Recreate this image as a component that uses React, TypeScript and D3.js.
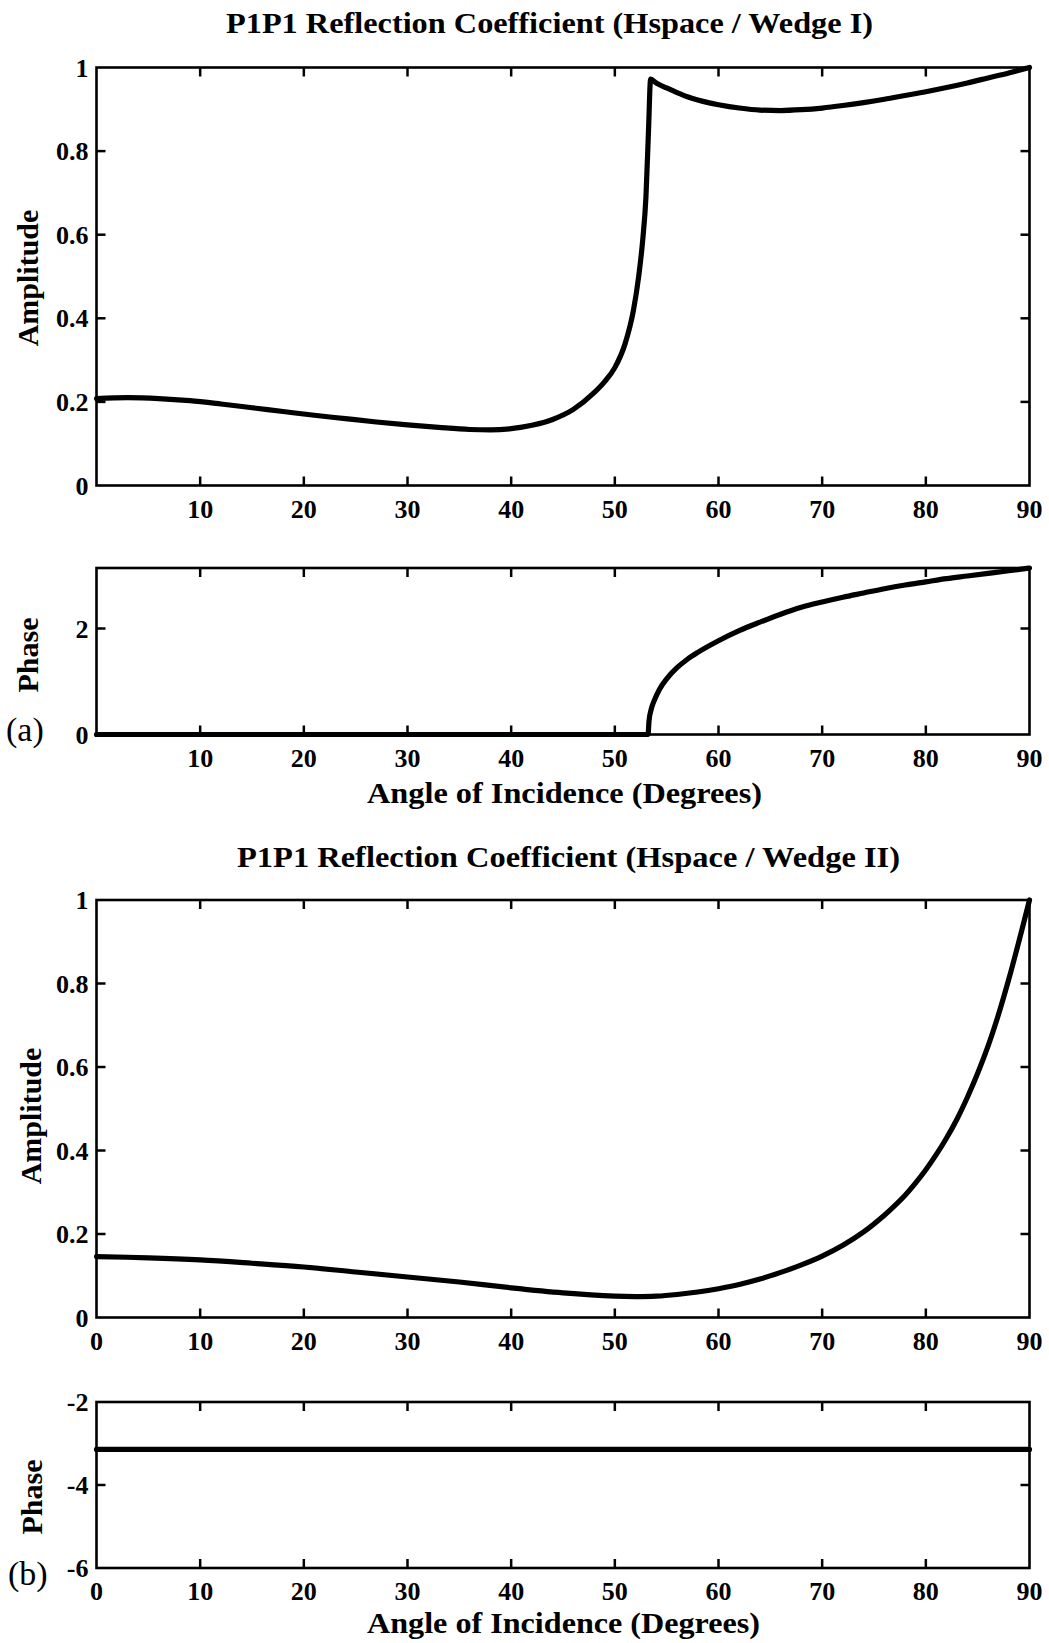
import React from "react";
import * as d3 from "d3";

// Angle of incidence in degrees for every panel
const xTicks = [0, 10, 20, 30, 40, 50, 60, 70, 80, 90];
const xTickLabelsA = ["", "10", "20", "30", "40", "50", "60", "70", "80", "90"];
const xTickLabelsB = ["0", "10", "20", "30", "40", "50", "60", "70", "80", "90"];

const ampTicks = [0, 0.2, 0.4, 0.6, 0.8, 1];
const ampTickLabels = ["0", "0.2", "0.4", "0.6", "0.8", "1"];
const phaseATicks = [0, 2];
const phaseATickLabels = ["0", "2"];
const phaseBTicks = [-6, -4, -2];
const phaseBTickLabels = ["-6", "-4", "-2"];

// Wedge I amplitude (angle, |R|)
const ampWedgeI: [number, number][] = [
  [0, 0.208], [3, 0.21], [6, 0.208], [9, 0.203], [12, 0.195], [15, 0.186],
  [18, 0.177], [21, 0.168], [24, 0.16], [27, 0.152], [30, 0.145], [33, 0.139],
  [36, 0.134], [38, 0.133], [40, 0.136], [42, 0.144], [44, 0.158], [46, 0.182],
  [48, 0.222], [49, 0.248], [50, 0.282], [51, 0.34], [51.8, 0.42], [52.3, 0.5],
  [52.7, 0.59], [53.0, 0.69], [53.25, 0.85], [53.45, 0.972], [54, 0.963],
  [55, 0.951], [56, 0.94], [57, 0.93], [58, 0.922], [59, 0.916], [60, 0.911],
  [62, 0.903], [64, 0.898], [66, 0.897], [68, 0.899], [70, 0.903], [72, 0.909],
  [74, 0.916], [76, 0.924], [78, 0.933], [80, 0.942], [82, 0.952], [84, 0.963],
  [86, 0.975], [88, 0.987], [90, 1.0],
];

// Wedge I phase (angle, radians)
const phaseWedgeI: [number, number][] = [
  [0, 0], [53.2, 0], [53.3, 0.26], [53.5, 0.47], [53.8, 0.64], [54.3, 0.85],
  [55, 1.05], [56, 1.26], [57, 1.42], [58, 1.55], [60, 1.77], [62, 1.96],
  [64, 2.12], [66, 2.27], [68, 2.4], [70, 2.5], [72, 2.59], [74, 2.67],
  [76, 2.75], [78, 2.82], [80, 2.88], [82, 2.94], [84, 2.99], [86, 3.04],
  [88, 3.09], [90, 3.1416],
];

// Wedge II amplitude (angle, |R|)
const ampWedgeII: [number, number][] = [
  [0, 0.146], [5, 0.143], [10, 0.138], [15, 0.13], [20, 0.121], [25, 0.109],
  [30, 0.097], [35, 0.085], [40, 0.071], [45, 0.059], [50, 0.051], [52, 0.05],
  [54, 0.051], [56, 0.055], [58, 0.061], [60, 0.069], [62, 0.079], [64, 0.092],
  [66, 0.108], [68, 0.126], [70, 0.147], [72, 0.173], [74, 0.205], [76, 0.245],
  [77, 0.268], [78, 0.293], [79, 0.322], [80, 0.354], [81, 0.39], [82, 0.43],
  [83, 0.475], [84, 0.527], [85, 0.585], [86, 0.65], [87, 0.725], [88, 0.81],
  [89, 0.903], [90, 1.0],
];

// Wedge II phase (angle, radians)
const phaseWedgeII: [number, number][] = [
  [0, -3.1416], [90, -3.1416],
];

const FONT = "'Liberation Serif', 'Times New Roman', Times, serif";
const L = 96.5;
const R = 1029.5;
const TICK = 9;

const x = d3.scaleLinear().domain([0, 90]).range([L, R]);

type PanelProps = {
  top: number;
  bottom: number;
  yDomain: [number, number];
  yTicks: number[];
  yTickLabels: string[];
  xTickLabels: string[];
  data: [number, number][];
  curve: d3.CurveFactory;
  yLabel: string;
  yLabelX: number;
  yLabelY: number;
};

function Panel(p: PanelProps) {
  const y = d3.scaleLinear().domain(p.yDomain).range([p.bottom, p.top]);
  const line = d3
    .line<[number, number]>()
    .x((d) => x(d[0]))
    .y((d) => y(d[1]))
    .curve(p.curve);
  const innerX = xTicks.filter((t) => t > 0 && t < 90);
  const innerY = p.yTicks.filter((t) => t > p.yDomain[0] && t < p.yDomain[1]);
  return (
    <g>
      {innerX.map((t) => (
        <g key={"xt" + t}>
          <line x1={x(t)} x2={x(t)} y1={p.bottom} y2={p.bottom - TICK} stroke="#000" strokeWidth={2.5} />
          <line x1={x(t)} x2={x(t)} y1={p.top} y2={p.top + TICK} stroke="#000" strokeWidth={2.5} />
        </g>
      ))}
      {innerY.map((t) => (
        <g key={"yt" + t}>
          <line x1={L} x2={L + TICK} y1={y(t)} y2={y(t)} stroke="#000" strokeWidth={2.5} />
          <line x1={R} x2={R - TICK} y1={y(t)} y2={y(t)} stroke="#000" strokeWidth={2.5} />
        </g>
      ))}
      <rect x={L} y={p.top} width={R - L} height={p.bottom - p.top} fill="none" stroke="#000" strokeWidth={2.6} />
      <path d={line(p.data) ?? ""} fill="none" stroke="#000" strokeWidth={5.2} strokeLinejoin="round" strokeLinecap="round" />
      {xTicks.map((t, i) =>
        p.xTickLabels[i] ? (
          <text key={"xl" + t} x={x(t)} y={p.bottom + 32} textAnchor="middle" fontFamily={FONT} fontWeight="bold" fontSize={26}>
            {p.xTickLabels[i]}
          </text>
        ) : null
      )}
      {p.yTicks.map((t, i) => (
        <text key={"yl" + t} x={L - 8} y={y(t) + 9} textAnchor="end" fontFamily={FONT} fontWeight="bold" fontSize={26}>
          {p.yTickLabels[i]}
        </text>
      ))}
      <text
        transform={`translate(${p.yLabelX},${p.yLabelY}) rotate(-90)`}
        textAnchor="middle"
        fontFamily={FONT}
        fontWeight="bold"
        fontSize={30}
      >
        {p.yLabel}
      </text>
    </g>
  );
}

export default function App() {
  return (
    <svg
      width={1049}
      height={1643}
      viewBox="0 0 1049 1643"
      style={{ position: "absolute", left: 0, top: 0, background: "#fff" }}
    >
      <rect x={0} y={0} width={1049} height={1643} fill="#fff" />

      <text x={226} y={33} textLength={647} lengthAdjust="spacingAndGlyphs" fontFamily={FONT} fontWeight="bold" fontSize={28.5}>
        P1P1 Reflection Coefficient (Hspace / Wedge I)
      </text>
      <Panel
        top={67.5}
        bottom={485.5}
        yDomain={[0, 1]}
        yTicks={ampTicks}
        yTickLabels={ampTickLabels}
        xTickLabels={xTickLabelsA}
        data={ampWedgeI}
        curve={d3.curveMonotoneX}
        yLabel="Amplitude"
        yLabelX={38}
        yLabelY={278}
      />
      <Panel
        top={568}
        bottom={734.5}
        yDomain={[0, Math.PI]}
        yTicks={phaseATicks}
        yTickLabels={phaseATickLabels}
        xTickLabels={xTickLabelsA}
        data={phaseWedgeI}
        curve={d3.curveMonotoneX}
        yLabel="Phase"
        yLabelX={38}
        yLabelY={655}
      />
      <text x={367} y={803} textLength={395} lengthAdjust="spacingAndGlyphs" fontFamily={FONT} fontWeight="bold" fontSize={29}>
        Angle of Incidence (Degrees)
      </text>
      <text x={6} y={741} fontFamily={FONT} fontSize={34}>
        (a)
      </text>

      <text x={237} y={867} textLength={663} lengthAdjust="spacingAndGlyphs" fontFamily={FONT} fontWeight="bold" fontSize={28.5}>
        P1P1 Reflection Coefficient (Hspace / Wedge II)
      </text>
      <Panel
        top={900}
        bottom={1317.5}
        yDomain={[0, 1]}
        yTicks={ampTicks}
        yTickLabels={ampTickLabels}
        xTickLabels={xTickLabelsB}
        data={ampWedgeII}
        curve={d3.curveCatmullRom.alpha(0.5)}
        yLabel="Amplitude"
        yLabelX={41}
        yLabelY={1116}
      />
      <Panel
        top={1402}
        bottom={1568}
        yDomain={[-6, -2]}
        yTicks={phaseBTicks}
        yTickLabels={phaseBTickLabels}
        xTickLabels={xTickLabelsB}
        data={phaseWedgeII}
        curve={d3.curveLinear}
        yLabel="Phase"
        yLabelX={42}
        yLabelY={1497}
      />
      <text x={367} y={1633} textLength={393} lengthAdjust="spacingAndGlyphs" fontFamily={FONT} fontWeight="bold" fontSize={29}>
        Angle of Incidence (Degrees)
      </text>
      <text x={8} y={1585} fontFamily={FONT} fontSize={34}>
        (b)
      </text>
    </svg>
  );
}
